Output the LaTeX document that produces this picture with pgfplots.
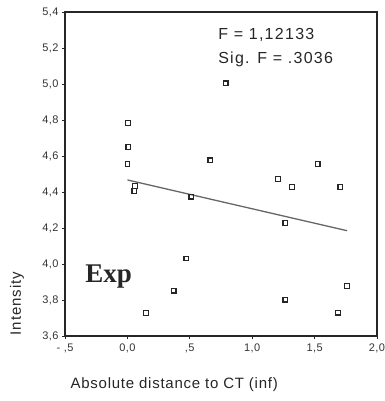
\documentclass[border=0pt]{standalone}
\usepackage{fontspec}
\setmainfont{Liberation Sans}
\newfontfamily\serifexp{Liberation Serif}
\usepackage{pgfplots}
\pgfplotsset{compat=1.18}
\pgfplotstableread{
x y
0.005 4.783
0.008 4.650
0.000 4.556
0.060 4.433
0.055 4.405
0.149 3.728
0.371 3.852
0.472 4.030
0.512 4.374
0.664 4.576
0.788 5.004
1.207 4.472
1.265 4.228
1.265 3.802
1.319 4.428
1.525 4.556
1.687 3.729
1.706 4.428
1.760 3.878
}\pts
\begin{document}
\begin{tikzpicture}
\begin{axis}[
  scale only axis, width=312bp, height=324bp,
  xmin=-0.5, xmax=2.0, ymin=3.6, ymax=5.4,
  xtick={-0.5,0,0.5,1,1.5,2},
  xticklabels={{- ,5},{0,0},{,5},{1,0},{1,5},{2,0}},
  ytick={3.6,3.8,4.0,4.2,4.4,4.6,4.8,5.0,5.2,5.4},
  yticklabels={{3,6},{3,8},{4,0},{4,2},{4,4},{4,6},{4,8},{5,0},{5,2},{5,4}},
  axis line style={line width=1.6bp, black!85},
  tick style={black!85, line width=0.9bp},
  tick align=outside, major tick length=3bp,
  xtick pos=bottom, ytick pos=left,
  tick label style={font=\fontsize{11bp}{13bp}\selectfont\addfontfeature{LetterSpace=4}, text=black!80},
  xticklabel style={yshift=-1bp},
  clip=false,
]
\addplot[only marks, mark=square, mark size=2.3bp, mark options={line width=1.2bp, black!85}] table[x=x,y=y]{\pts};
\addplot[gray!80!black, line width=1.3bp] coordinates {(0,4.467) (1.76,4.185)};
\node[anchor=west, font=\fontsize{16bp}{18bp}\selectfont\addfontfeature{LetterSpace=8}, text=black!85] at (axis cs:0.70,5.272) {F = 1,12133};
\node[anchor=west, font=\fontsize{16bp}{18bp}\selectfont\addfontfeature{LetterSpace=8}, text=black!85] at (axis cs:0.70,5.139) {Sig. F = .3036};
\node[font=\serifexp\bfseries\fontsize{27bp}{30bp}\selectfont, text=black!85] at (axis cs:-0.15,3.93) {Exp};
\coordinate (ll) at (rel axis cs:0,0);
\coordinate (ur) at (rel axis cs:1,1);
\coordinate (yl) at (rel axis cs:0,0.10);
\coordinate (xl) at (rel axis cs:0.35,0);
\end{axis}
\node[rotate=90, anchor=center, font=\fontsize{15bp}{17bp}\selectfont\addfontfeature{LetterSpace=6}, text=black!85] at ([xshift=-48bp]yl) {Intensity};
\node[anchor=center, font=\fontsize{15bp}{17bp}\selectfont\addfontfeature{LetterSpace=5}, text=black!85] at ([yshift=-49bp]xl) {Absolute distance to CT (inf)};
\pgfresetboundingbox
\path ([shift={(-65bp,-65bp)}]ll) rectangle ([shift={(8bp,12bp)}]ur);
\end{tikzpicture}
\end{document}
